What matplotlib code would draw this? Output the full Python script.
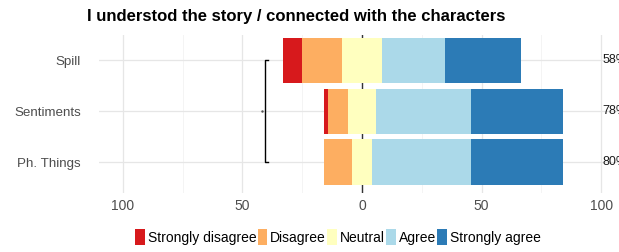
import numpy as np
import matplotlib
matplotlib.use('Agg')
import matplotlib.pyplot as plt
from matplotlib.patches import Patch

# data (percent of responses)
items = ['Spill', 'Sentiments', 'Ph. Things']
levels = ['Strongly disagree', 'Disagree', 'Neutral', 'Agree', 'Strongly agree']
strongly_disagree = [8.3, 1.7, 0.0]
disagree = [16.6, 8.4, 11.7]
neutral = [16.7, 11.6, 8.4]
agree = [26.4, 39.8, 41.4]
strongly_agree = [31.9, 38.5, 38.5]
right_labels = ['58%', '78%', '80%']
colors = ['#d7191c', '#fdae61', '#ffffbf', '#abd9e9', '#2c7bb6']

plt.rcParams['font.family'] = ['Liberation Sans', 'DejaVu Sans']

fig = plt.figure(figsize=(6.19, 2.52), dpi=100)
ax = fig.add_axes([99 / 619, 59 / 252, 526 / 619, 158 / 252])

vals = np.array([strongly_disagree, disagree, neutral, agree, strongly_agree])
ypos = np.array([3, 2, 1])

for i in range(len(items)):
    left = -(vals[0, i] + vals[1, i] + vals[2, i] / 2)
    for k in range(len(levels)):
        if vals[k, i] > 0:
            ax.barh(ypos[i], vals[k, i], left=left, height=0.9,
                    color=colors[k], linewidth=0, zorder=2)
        left += vals[k, i]
    ax.text(100.5, ypos[i], right_labels[i], ha='left', va='center',
            fontsize=9, color='#1a1a1a', clip_on=False)

# zero line (behind the bars)
ax.axvline(0, color='#333333', lw=1, zorder=1.5)

# bracket
bx = -40.4
ax.plot([bx + 1, bx, bx, bx + 1], [3, 3, 1, 1], color='black', lw=1, zorder=3)
ax.plot([bx - 1.3], [2], marker='.', ms=1.5, color='#555555')

ax.set_xlim(-110, 110)
ax.set_ylim(0.4, 3.5)
ax.set_xticks([-100, -50, 0, 50, 100])
ax.set_xticklabels(['100', '50', '0', '50', '100'])
ax.set_xticks([-75, -25, 25, 75], minor=True)
ax.set_yticks(ypos)
ax.set_yticklabels(items)
ax.tick_params(axis='both', which='both', length=0, labelsize=10,
               labelcolor='#4d4d4d')
ax.tick_params(axis='y', pad=13, labelsize=9.6)
ax.tick_params(axis='x', pad=4)
ax.grid(True, which='major', color='#e6e6e6', lw=0.9, zorder=0)
ax.grid(True, which='minor', axis='x', color='#f2f2f2', lw=0.6, zorder=0)
ax.set_axisbelow(True)
for s in ax.spines.values():
    s.set_visible(False)

fig.text(296 / 619, 1 - 16 / 252, 'I understod the story / connected with the characters',
         ha='center', va='center', fontsize=12, fontweight='bold')

handles = [Patch(facecolor=c, edgecolor='none') for c in colors]
fig.legend(handles, levels, loc='center', bbox_to_anchor=(338 / 619, 1 - 237 / 252),
           ncol=5, frameon=False, fontsize=10, handlelength=0.7, handleheight=1.3,
           handletextpad=0.2, columnspacing=0.1, borderpad=0)

fig.savefig('out.png', dpi=100)
